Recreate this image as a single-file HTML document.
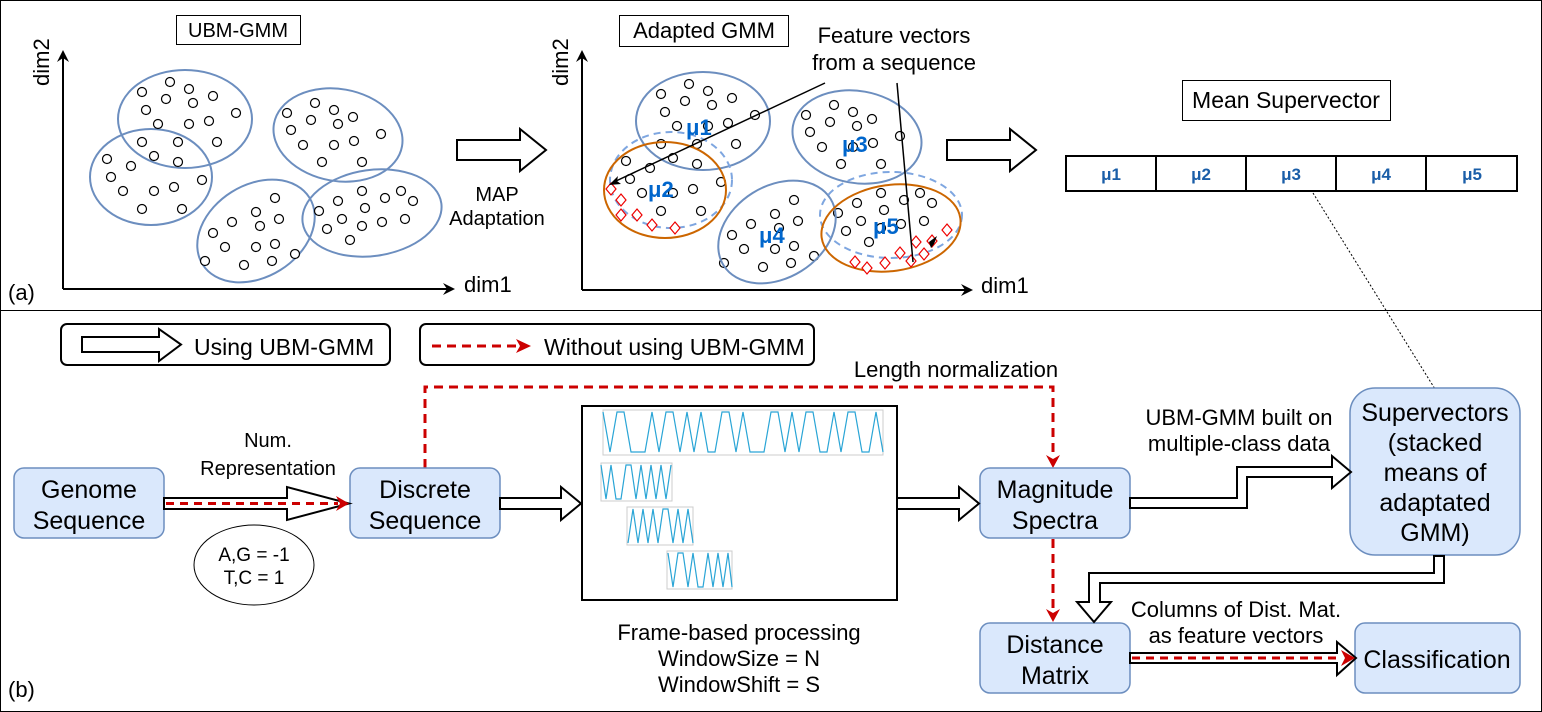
<!DOCTYPE html>
<html><head><meta charset="utf-8"><style>
html,body{margin:0;padding:0;background:#fff}
svg{display:block;font-family:"Liberation Sans",sans-serif}
</style></head><body>
<svg width="1542" height="712" viewBox="0 0 1542 712" xmlns="http://www.w3.org/2000/svg">
<defs>
<g id="pts" fill="#fff" stroke="#000" stroke-width="1.2">
<circle cx="142" cy="92" r="4.5"/><circle cx="170" cy="82" r="4.5"/><circle cx="189" cy="89" r="4.5"/><circle cx="213" cy="96" r="4.5"/><circle cx="166" cy="99" r="4.5"/><circle cx="193" cy="103" r="4.5"/><circle cx="146" cy="110" r="4.5"/><circle cx="236" cy="113" r="4.5"/><circle cx="158" cy="124" r="4.5"/><circle cx="189" cy="124" r="4.5"/><circle cx="209" cy="121" r="4.5"/><circle cx="217" cy="142" r="4.5"/><circle cx="142" cy="142" r="4.5"/><circle cx="178" cy="142" r="4.5"/><circle cx="154" cy="156" r="4.5"/><circle cx="178" cy="162" r="4.5"/><circle cx="107" cy="159" r="4.5"/><circle cx="131" cy="166" r="4.5"/><circle cx="111" cy="177" r="4.5"/><circle cx="202" cy="180" r="4.5"/><circle cx="154" cy="191" r="4.5"/><circle cx="174" cy="187" r="4.5"/><circle cx="123" cy="191" r="4.5"/><circle cx="142" cy="209" r="4.5"/><circle cx="182" cy="209" r="4.5"/>
<circle cx="287" cy="113" r="4.5"/><circle cx="315" cy="103" r="4.5"/><circle cx="334" cy="110" r="4.5"/><circle cx="353" cy="117" r="4.5"/><circle cx="291" cy="130" r="4.5"/><circle cx="311" cy="120" r="4.5"/><circle cx="338" cy="124" r="4.5"/><circle cx="381" cy="134" r="4.5"/><circle cx="303" cy="145" r="4.5"/><circle cx="334" cy="145" r="4.5"/><circle cx="354" cy="141" r="4.5"/><circle cx="322" cy="162" r="4.5"/><circle cx="362" cy="162" r="4.5"/>
<circle cx="362" cy="191" r="4.5"/><circle cx="338" cy="201" r="4.5"/><circle cx="385" cy="198" r="4.5"/><circle cx="401" cy="191" r="4.5"/><circle cx="413" cy="201" r="4.5"/><circle cx="365" cy="208" r="4.5"/><circle cx="319" cy="211" r="4.5"/><circle cx="342" cy="219" r="4.5"/><circle cx="362" cy="226" r="4.5"/><circle cx="382" cy="222" r="4.5"/><circle cx="405" cy="219" r="4.5"/><circle cx="327" cy="229" r="4.5"/><circle cx="350" cy="240" r="4.5"/>
<circle cx="275" cy="198" r="4.5"/><circle cx="256" cy="212" r="4.5"/><circle cx="279" cy="219" r="4.5"/><circle cx="213" cy="233" r="4.5"/><circle cx="232" cy="222" r="4.5"/><circle cx="260" cy="226" r="4.5"/><circle cx="225" cy="247" r="4.5"/><circle cx="256" cy="247" r="4.5"/><circle cx="275" cy="244" r="4.5"/><circle cx="205" cy="261" r="4.5"/><circle cx="244" cy="265" r="4.5"/><circle cx="272" cy="261" r="4.5"/><circle cx="295" cy="254" r="4.5"/>
</g>
</defs>
<rect x="0.5" y="0.5" width="1541" height="711" fill="#fff" stroke="#000" stroke-width="1"/>
<line x1="0" y1="310.5" x2="1542" y2="310.5" stroke="#000" stroke-width="1"/>

<rect x="176.5" y="15.5" width="124" height="29" fill="#fff" stroke="#000"/>
<text x="238" y="37" font-size="20" text-anchor="middle">UBM-GMM</text>
<path d="M63,289 V56 M63,289 H448" stroke="#000" stroke-width="2" fill="none"/>
<polygon points="63,50 57,62 63,58 69,62"/><polygon points="455,289 443,283 447,289 443,295"/>
<text x="464" y="292" font-size="22">dim1</text>
<text transform="translate(49,86) rotate(-90)" font-size="22">dim2</text>
<g fill="none" stroke="#6c8ebf" stroke-width="2">
<ellipse cx="185" cy="119" rx="67" ry="49"/>
<ellipse cx="151" cy="177" rx="61" ry="48"/>
<ellipse cx="338" cy="135" rx="65" ry="46" transform="rotate(10 338 135)"/>
<ellipse cx="256" cy="231" rx="63" ry="46" transform="rotate(-32 256 231)"/>
<ellipse cx="372" cy="213" rx="70" ry="43" transform="rotate(-8 372 213)"/>
</g>
<use href="#pts"/>
<polygon points="457,140 520,140 520,129 546,150 520,171 520,160 457,160" fill="#fff" stroke="#000" stroke-width="2"/>
<text x="497" y="201" font-size="20" text-anchor="middle">MAP</text>
<text x="497" y="225" font-size="20" text-anchor="middle">Adaptation</text>
<text x="8" y="300" font-size="22">(a)</text>

<rect x="619.5" y="15.5" width="169" height="31" fill="#fff" stroke="#000"/>
<text x="704" y="38" font-size="22" text-anchor="middle">Adapted GMM</text>
<text x="894" y="43" font-size="22" text-anchor="middle">Feature vectors</text>
<text x="894" y="70" font-size="22" text-anchor="middle">from a sequence</text>
<path d="M582,290 V56 M582,290 H965" stroke="#000" stroke-width="2" fill="none"/>
<polygon points="582,50 576,62 582,58 588,62"/><polygon points="973,290 961,284 965,290 961,296"/>
<text x="981" y="293" font-size="22">dim1</text>
<text transform="translate(568,86) rotate(-90)" font-size="22">dim2</text>
<use href="#pts" transform="translate(519,2)"/>
<g fill="none" stroke-width="2">
<ellipse cx="703" cy="121" rx="67" ry="49" stroke="#6c8ebf"/>
<ellipse cx="857" cy="137" rx="65" ry="46" stroke="#6c8ebf" transform="rotate(10 857 137)"/>
<ellipse cx="777" cy="232" rx="63" ry="46" stroke="#6c8ebf" transform="rotate(-32 777 232)"/>
<ellipse cx="671" cy="180" rx="61" ry="48" stroke="#7ea6e0" stroke-dasharray="7,5"/>
<ellipse cx="891" cy="215" rx="71" ry="43" stroke="#7ea6e0" stroke-dasharray="7,5"/>
<ellipse cx="665" cy="190" rx="61" ry="48" stroke="#cc6600"/>
<ellipse cx="891" cy="228" rx="70" ry="43" stroke="#cc6600" transform="rotate(-8 891 228)"/>
</g>
<g fill="#fff" stroke="#e00" stroke-width="1.2">
<path d="M611,183 l5,6 -5,6 -5,-6z M621,194 l5,6 -5,6 -5,-6z M621,209 l5,6 -5,6 -5,-6z M637,209 l5,6 -5,6 -5,-6z M652,219 l5,6 -5,6 -5,-6z M675,222 l5,6 -5,6 -5,-6z"/>
<path d="M855,256 l5,6 -5,6 -5,-6z M867,262 l5,6 -5,6 -5,-6z M885,257 l5,6 -5,6 -5,-6z M900,247 l5,6 -5,6 -5,-6z M911,255 l5,6 -5,6 -5,-6z M916,236 l5,6 -5,6 -5,-6z M924,248 l5,6 -5,6 -5,-6z M932,235 l5,6 -5,6 -5,-6z M947,224 l5,6 -5,6 -5,-6z"/>
</g>
<line x1="825" y1="83" x2="616" y2="181" stroke="#000" stroke-width="1.5"/>
<polygon points="609,185 618,176 617,181 621,184" />
<line x1="897" y1="83" x2="913" y2="262" stroke="#000" stroke-width="1.5"/>
<polygon points="929,242 937,236 934,244 931,248"/>
<g fill="#0066cc" font-weight="bold" font-size="22">
<text x="686" y="135">μ1</text><text x="648" y="197">μ2</text><text x="842" y="152">μ3</text><text x="759" y="243">μ4</text><text x="873" y="234">μ5</text>
</g>
<polygon points="947,140 1010,140 1010,129 1036,150 1010,171 1010,160 947,160" fill="#fff" stroke="#000" stroke-width="2"/>

<rect x="1182.5" y="80.5" width="208" height="40" fill="#fff" stroke="#000"/>
<text x="1286" y="108" font-size="23" text-anchor="middle">Mean Supervector</text>
<rect x="1066" y="156" width="451" height="35" fill="#fff" stroke="#000" stroke-width="2"/>
<path d="M1156,156 V191 M1246,156 V191 M1336,156 V191 M1426,156 V191" stroke="#000" stroke-width="2"/>
<g fill="#1a5ea8" font-weight="bold" font-size="17" text-anchor="middle">
<text x="1111" y="180">μ1</text><text x="1201" y="180">μ2</text><text x="1291" y="180">μ3</text><text x="1381" y="180">μ4</text><text x="1472" y="180">μ5</text>
</g>
<line x1="1313" y1="193" x2="1435" y2="389" stroke="#000" stroke-width="1" stroke-dasharray="2,2"/>

<rect x="61" y="324" width="329" height="41" rx="6" fill="#fff" stroke="#000" stroke-width="2"/>
<polygon points="82,337 159,337 159,329 181,344.5 159,361 159,352 82,352" fill="#fff" stroke="#000" stroke-width="2"/>
<text x="194" y="355" font-size="23">Using UBM-GMM</text>
<rect x="420" y="324" width="394" height="41" rx="6" fill="#fff" stroke="#000" stroke-width="2"/>
<line x1="432" y1="346" x2="520" y2="346" stroke="#cc0000" stroke-width="3" stroke-dasharray="9,6"/>
<polygon points="516,339 531,346 516,353 520,346" fill="#cc0000"/>
<text x="544" y="355" font-size="23">Without using UBM-GMM</text>

<path d="M425,468 V387 H1053 V458" fill="none" stroke="#cc0000" stroke-width="3" stroke-dasharray="9,6"/>
<polygon points="1046,455 1053,468 1060,455 1053,459" fill="#cc0000"/>
<text x="956" y="377" font-size="22" text-anchor="middle">Length normalization</text>

<g fill="#dae8fc" stroke="#6c8ebf" stroke-width="1.5">
<rect x="14" y="468" width="150" height="70" rx="10"/>
<rect x="350" y="468" width="150" height="70" rx="10"/>
<rect x="980" y="468" width="150" height="70" rx="10"/>
<rect x="980" y="623" width="150" height="70" rx="10"/>
<rect x="1355" y="623" width="165" height="70" rx="10"/>
<rect x="1350" y="388" width="170" height="167" rx="25"/>
</g>
<g font-size="25" text-anchor="middle">
<text x="89" y="498">Genome</text><text x="89" y="529">Sequence</text>
<text x="425" y="498">Discrete</text><text x="425" y="529">Sequence</text>
<text x="1055" y="498">Magnitude</text><text x="1055" y="529">Spectra</text>
<text x="1055" y="653">Distance</text><text x="1055" y="684">Matrix</text>
<text x="1437" y="668">Classification</text>
<text x="1435" y="421">Supervectors</text><text x="1435" y="451">(stacked</text><text x="1435" y="481">means of</text><text x="1435" y="511">adaptated</text><text x="1435" y="541">GMM)</text>
</g>

<g fill="#fff" stroke="#000" stroke-width="2">
<polygon points="164,498 287,498 287,487 349,503.5 287,520 287,509 164,509"/>
<polygon points="500,498 561,498 561,487 581,503.5 561,520 561,509 500,509"/>
<polygon points="897,498 959,498 959,487 979,503.5 959,520 959,509 897,509"/>
<polygon points="1130,498 1237,498 1237,467 1332,467 1332,456 1351,472 1332,488 1332,477 1247,477 1247,508 1130,508"/>
<polygon points="1434,556 1434,573 1089,573 1089,602 1077,602 1094,622 1111,602 1100,602 1100,583 1444,583 1444,556"/>
<polygon points="1130,653 1337,653 1337,642 1356,658 1337,675 1337,663 1130,663"/>
</g>
<line x1="166" y1="503.5" x2="338" y2="503.5" stroke="#cc0000" stroke-width="3" stroke-dasharray="8,6"/>
<polygon points="336,496 349,503.5 336,511 340,503.5" fill="#cc0000"/>
<line x1="1132" y1="658" x2="1342" y2="658" stroke="#cc0000" stroke-width="3" stroke-dasharray="8,6"/>
<polygon points="1341,650 1355,658 1341,666 1345,658" fill="#cc0000"/>
<line x1="1053" y1="539" x2="1053" y2="612" stroke="#cc0000" stroke-width="3" stroke-dasharray="9,6"/>
<polygon points="1046,609 1053,622 1060,609 1053,613" fill="#cc0000"/>

<text x="268" y="447" font-size="20" text-anchor="middle">Num.</text>
<text x="268" y="475" font-size="20" text-anchor="middle">Representation</text>
<ellipse cx="254" cy="565" rx="60" ry="40" fill="#fff" stroke="#000" stroke-width="1"/>
<text x="254" y="561" font-size="19" text-anchor="middle">A,G = -1</text>
<text x="254" y="584" font-size="19" text-anchor="middle">T,C = 1</text>
<text x="1239" y="425" font-size="22" text-anchor="middle">UBM-GMM built on</text>
<text x="1239" y="451" font-size="22" text-anchor="middle">multiple-class data</text>
<text x="1236" y="617" font-size="22" text-anchor="middle">Columns of Dist. Mat.</text>
<text x="1236" y="643" font-size="22" text-anchor="middle">as feature vectors</text>

<rect x="582" y="406" width="315" height="194" fill="#fff" stroke="#000" stroke-width="2"/>
<g fill="none" stroke="#ccc" stroke-width="1">
<rect x="603" y="410" width="280" height="45"/><rect x="601" y="463" width="71" height="38"/><rect x="627" y="507" width="66" height="38"/><rect x="667" y="551" width="65" height="38"/>
</g>
<g fill="none" stroke="#2aa5d6" stroke-width="1.2">
<polyline points="603,412 610,452 617,412 624,412 631,452 638,452 645,452 652,412 659,452 666,412 673,412 680,452 687,412 694,452 701,412 708,452 715,452 722,412 729,412 736,452 743,412 750,452 757,452 764,452 771,412 778,412 785,452 792,412 799,452 806,412 813,412 820,452 827,452 834,412 841,452 848,412 855,412 862,452 869,452 876,412 883,452"/>
<polyline points="601,465 606,499 611,465 616,499 621,499 626,465 631,465 636,499 641,465 646,499 651,465 656,499 661,465 666,499 671,465"/>
<polyline points="628,543 633,509 638,543 643,509 648,543 653,509 658,543 663,509 668,509 673,543 678,509 683,543 688,509 693,543"/>
<polyline points="668,553 673,587 678,553 683,553 688,587 693,553 698,587 703,587 708,553 713,587 718,553 723,587 728,553 732,587"/>
</g>
<text x="739" y="640" font-size="22" text-anchor="middle">Frame-based processing</text>
<text x="739" y="666" font-size="22" text-anchor="middle">WindowSize = N</text>
<text x="739" y="692" font-size="22" text-anchor="middle">WindowShift = S</text>
<text x="8" y="697" font-size="22">(b)</text>
</svg>
</body></html>
